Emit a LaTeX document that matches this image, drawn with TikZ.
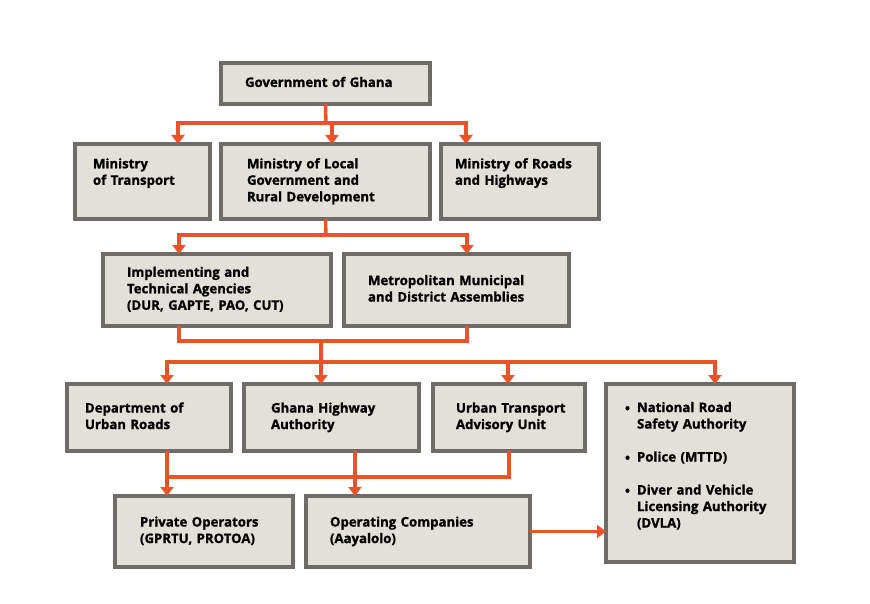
\documentclass[tikz,border=0pt]{standalone}
\usepackage{fontspec}
\setmainfont{Open Sans}[BoldFeatures={FakeBold=1.2}]
\usepackage{tikz}
\usetikzlibrary{arrows.meta,calc}
\definecolor{boxfill}{HTML}{E3E0DA}
\definecolor{boxline}{HTML}{6F6C67}
\definecolor{linkred}{HTML}{E8532A}
\newcommand{\orglines}[1]{\begin{tabular}{@{}l@{}}#1\end{tabular}}

\begin{document}
\begin{tikzpicture}[
  x=1pt, y=-1pt,
  orgbox/.style={draw=boxline, fill=boxfill, line width=3.2pt, anchor=north west,
    inner ysep=0pt, outer sep=0pt, font=\bfseries\fontsize{13.2}{16.5}\selectfont, align=left},
  link/.style={draw=linkred, line width=3.4pt},
  flow/.style={link, -{Triangle[length=9pt, width=13pt]}}
]
  \useasboundingbox (0,0) rectangle (870,604);

  % boxes
  \node[orgbox, minimum width=209, minimum height=41, inner xsep=24, text width=161, text depth=5pt] (gov) at (221,63)
    {\orglines{Government of Ghana}};
  \node[orgbox, minimum width=135, minimum height=75, inner xsep=18, text width=99, text depth=30pt] (mot) at (75,144)
    {\orglines{Ministry\\of Transport}};
  \node[orgbox, minimum width=209, minimum height=75, inner xsep=26, text width=157] (mlg) at (221,144)
    {\orglines{Ministry of Local\\Government and\\Rural Development}};
  \node[orgbox, minimum width=158, minimum height=75, inner xsep=14, text width=130, text depth=30pt] (mrh) at (441,144)
    {\orglines{Ministry of Roads\\and Highways}};
  \node[orgbox, minimum width=228, minimum height=72, inner xsep=24, text width=180] (ita) at (103,254)
    {\orglines{Implementing and\\Technical Agencies\\(DUR, GAPTE, PAO, CUT)}};
  \node[orgbox, minimum width=225, minimum height=72, inner xsep=24, text width=177] (mmda) at (344,254)
    {\orglines{Metropolitan Municipal\\and District Assemblies}};
  \node[orgbox, minimum width=164, minimum height=67, inner xsep=18, text width=128] (dur) at (67,384)
    {\orglines{Department of\\Urban Roads}};
  \node[orgbox, minimum width=175, minimum height=67, inner xsep=27, text width=121] (gha) at (244,384)
    {\orglines{Ghana Highway\\Authority}};
  \node[orgbox, minimum width=152, minimum height=67, inner xsep=23, text width=106] (utau) at (433,384)
    {\orglines{Urban Transport\\Advisory Unit}};
  \node[orgbox, minimum width=188, minimum height=178, inner xsep=31, text width=126, text depth=76pt] (safety) at (606,384)
    {\orglines{\llap{\raisebox{-1pt}{\textbullet}\hspace{7pt}}National Road\\Safety Authority\\[16.5pt]
      \llap{\raisebox{-1pt}{\textbullet}\hspace{7pt}}Police (MTTD)\\[16.5pt]
      \llap{\raisebox{-1pt}{\textbullet}\hspace{7pt}}Diver and Vehicle\\Licensing Authority\\(DVLA)}};
  \node[orgbox, minimum width=178, minimum height=71, inner xsep=24, text width=128] (priv) at (115,496)
    {\orglines{Private Operators\\(GPRTU, PROTOA)}};
  \node[orgbox, minimum width=224, minimum height=71, inner xsep=24, text width=176] (opco) at (306,496)
    {\orglines{Operating Companies\\(Aayalolo)}};

  % junctions and drop points
  \coordinate (j1) at (326,123);
  \coordinate (j2) at (326,235);
  \coordinate (j3) at (321,341);
  \coordinate (j4) at (321,362);
  \coordinate (j5) at (355,477);
  \coordinate (a1) at (178,0);
  \coordinate (a2) at (332,0);
  \coordinate (a3) at (466,0);
  \coordinate (b1) at (179,0);
  \coordinate (b2) at (467,0);
  \coordinate (c1) at (167,0);
  \coordinate (c3) at (508,0);
  \coordinate (c4) at (715,0);
  \coordinate (d3) at (509,0);

  % top level
  \draw[link] (gov.south) -- (j1);
  \draw[flow] (j1) -| (mot.north -| a1);
  \draw[flow] (j1) -| (mlg.north -| a2);
  \draw[flow] (j1) -| (mrh.north -| a3);

  % ministry to agencies
  \draw[link] (mlg.south) -- (j2);
  \draw[flow] (j2) -| (ita.north -| b1);
  \draw[flow] (j2) -| (mmda.north -| b2);

  % agencies to departments
  \draw[link] (ita.south -| b1) |- (j3) -| (mmda.south -| b2);
  \draw[link] (j3) -- (j4);
  \draw[flow] (j4) -| (dur.north -| c1);
  \draw[flow] (j4) -- (gha.north -| j4);
  \draw[flow] (j4) -| (utau.north -| c3);
  \draw[flow] (j4) -| (safety.north -| c4);

  % departments to operators
  \draw[link] (j5 -| c1) -- (j5 -| d3) -- (utau.south -| d3);
  \draw[flow] (dur.south -| c1) -- (priv.north -| c1);
  \draw[flow] (gha.south -| j5) -- (opco.north -| j5);
  \draw[flow] (opco.east) -- (safety.west |- opco.east);
\end{tikzpicture}
\end{document}
